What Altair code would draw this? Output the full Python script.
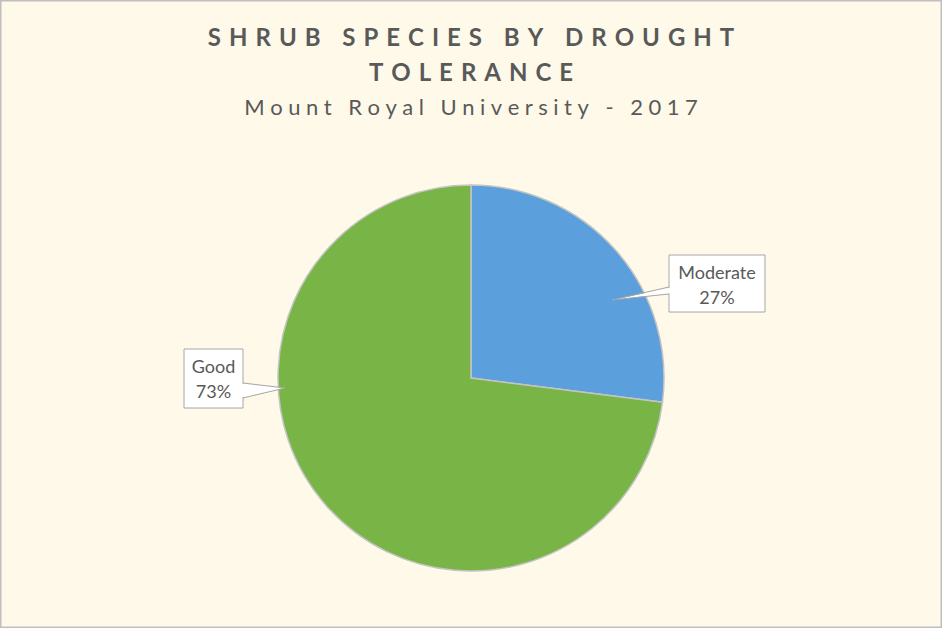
import altair as alt
import pandas as pd

# ---- data ----
categories = ["Moderate", "Good"]
values = [27, 73]
slice_order = [0, 1]
colors = ["#5B9FDC", "#78B446"]

title_line1 = "SHRUB SPECIES BY DROUGHT"
title_line2 = "TOLERANCE"
subtitle = "Mount Royal University - 2017"

df = pd.DataFrame({"category": categories, "value": values, "ord": slice_order})

W, H = 942, 628
CX, CY, R = 471, 378, 193
TXT = "#595959"


def spaced(s, sp):
    return sp.join(list(s))


# ---- pie ----
pie = alt.Chart(df).mark_arc(outerRadius=R, stroke="#C4C4C4", strokeWidth=1.5).encode(
    theta=alt.Theta("value:Q", stack=True),
    color=alt.Color("category:N", scale=alt.Scale(domain=categories, range=colors), legend=None),
    order=alt.Order("ord:Q"),
    x=alt.value(CX),
    y=alt.value(CY),
)


# ---- titles ----
def text_layer(txt, y, size, weight, sp):
    d = pd.DataFrame({"t": [spaced(txt, sp)]})
    return alt.Chart(d).mark_text(
        font="Lato", fontSize=size, fontWeight=weight, color=TXT, align="center", baseline="middle"
    ).encode(text="t:N", x=alt.value(W / 2), y=alt.value(y))


t1 = text_layer(title_line1, 39, 24, "bold", "\u2004")
t2 = text_layer(title_line2, 74, 24, "bold", "\u2004")
t3 = text_layer(subtitle, 108, 22, "normal", "\u2005")

# ---- callouts ----
boxes = {
    "Moderate": dict(x=669, x2=765, y=255, y2=312, tip=(612, 300), base_x=669, base_y=(287, 294), ty=274),
    "Good": dict(x=184, x2=243, y=349, y2=408, tip=(285, 388), base_x=243, base_y=(383, 398), ty=368),
}

one = pd.DataFrame({"a": [0]})
callouts = []
for cat in categories:
    b = boxes[cat]
    rect = alt.Chart(one).mark_rect(fill="white", stroke="#A6A6A6", strokeWidth=1).encode(
        x=alt.value(b["x"]), x2=alt.value(b["x2"]), y=alt.value(b["y"]), y2=alt.value(b["y2"])
    )
    inward = 1.5 if b["base_x"] == b["x"] else -1.5
    wedge_df = pd.DataFrame({
        "px": [b["tip"][0], b["base_x"] + inward],
        "py": [b["tip"][1], b["base_y"][0] + 0.8],
        "py2": [b["tip"][1], b["base_y"][1] - 0.8],
    })
    wedge = alt.Chart(wedge_df).mark_area(color="white", opacity=1, orient="vertical").encode(
        x=alt.X("px:Q", scale=None, axis=None),
        y=alt.Y("py:Q", scale=None, axis=None),
        y2="py2:Q",
    )
    r1 = alt.Chart(one).mark_rule(color="#A6A6A6", strokeWidth=1).encode(
        x=alt.value(b["tip"][0]), y=alt.value(b["tip"][1]),
        x2=alt.value(b["base_x"]), y2=alt.value(b["base_y"][0]),
    )
    r2 = alt.Chart(one).mark_rule(color="#A6A6A6", strokeWidth=1).encode(
        x=alt.value(b["tip"][0]), y=alt.value(b["tip"][1]),
        x2=alt.value(b["base_x"]), y2=alt.value(b["base_y"][1]),
    )
    lab = alt.Chart(df).transform_filter(alt.datum.category == cat).transform_calculate(
        label="datum.category + '\\n' + datum.value + '%'"
    ).mark_text(
        lineBreak="\n", font="Lato", fontSize=18, lineHeight=25, color=TXT, align="center", baseline="middle"
    ).encode(
        text="label:N",
        x=alt.value((b["x"] + b["x2"]) / 2),
        y=alt.value(b["ty"]),
    )
    callouts += [rect, wedge, r1, r2, lab]

chart = alt.layer(pie, t1, t2, t3, *callouts).properties(
    width=W, height=H, background="#FEF9E9", padding=0,
    autosize=alt.AutoSizeParams(type="none"),
).configure_view(stroke="#BFBFBF", strokeWidth=3, fill="#FEF9E9")

chart.save("out.html", embed_options={"renderer": "svg", "actions": False})
